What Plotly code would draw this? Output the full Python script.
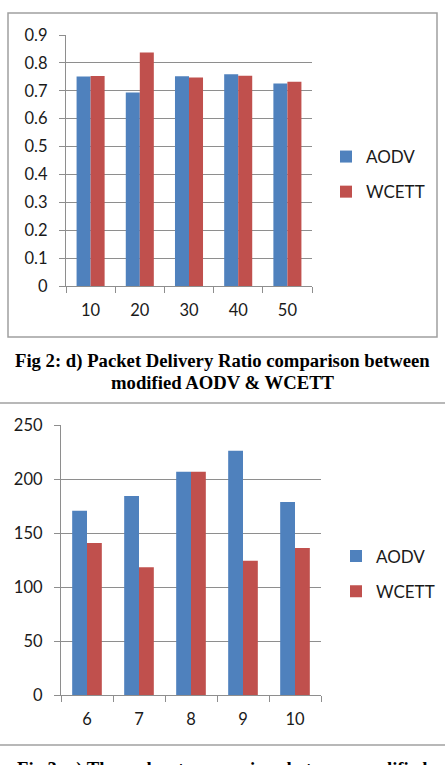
import plotly.graph_objects as go

# ---- data ----
pdr_nodes = ["10", "20", "30", "40", "50"]
pdr_aodv = [0.751, 0.694, 0.752, 0.759, 0.726]
pdr_wcett = [0.753, 0.837, 0.748, 0.754, 0.732]
pdr_ticks = [0, 0.1, 0.2, 0.3, 0.4, 0.5, 0.6, 0.7, 0.8, 0.9]

thr_nodes = ["6", "7", "8", "9", "10"]
thr_aodv = [170.7, 184.3, 206.8, 226.2, 178.7]
thr_wcett = [140.7, 118.2, 206.8, 124.4, 136.1]
thr_ticks = [0, 50, 100, 150, 200, 250]

series_names = ["AODV", "WCETT"]
caption_top = ["Fig 2: d) Packet Delivery Ratio comparison between", "modified AODV & WCETT"]
caption_bottom = "Fig 3: c) Throughput comparison between modified"

# ---- styling ----
W, H = 445, 765
BLUE = "#4F81BD"
RED = "#C0504D"
GRID = "#8E8E8E"
TXT = "#1a1a1a"
FONT = "Lato"

def px(x):
    return x / W

def py(y):
    return 1 - y / H

fig = go.Figure()

fig.add_trace(go.Bar(x=pdr_nodes, y=pdr_aodv, name=series_names[0], marker_color=BLUE,
                     xaxis="x", yaxis="y", legend="legend", legendgroup="a1", marker_line_width=0))
fig.add_trace(go.Bar(x=pdr_nodes, y=pdr_wcett, name=series_names[1], marker_color=RED,
                     xaxis="x", yaxis="y", legend="legend", legendgroup="w1", marker_line_width=0))
fig.add_trace(go.Bar(x=thr_nodes, y=thr_aodv, name=series_names[0], marker_color=BLUE,
                     xaxis="x2", yaxis="y2", legend="legend2", legendgroup="a2", marker_line_width=0))
fig.add_trace(go.Bar(x=thr_nodes, y=thr_wcett, name=series_names[1], marker_color=RED,
                     xaxis="x2", yaxis="y2", legend="legend2", legendgroup="w2", marker_line_width=0))

tickfont = dict(family=FONT, size=16.5, color=TXT)

xcommon = dict(type="category", showgrid=False, showline=True, linecolor=GRID, linewidth=1.3,
               ticks="outside", tickson="boundaries", ticklen=6, tickcolor=GRID, tickwidth=1.3,
               tickfont=tickfont, ticklabelstandoff=9, zeroline=False, fixedrange=True,
               automargin=False)
ycommon = dict(showgrid=True, gridcolor=GRID, gridwidth=1.3, showline=True, linecolor=GRID,
               linewidth=1.3, ticks="outside", ticklen=6, tickcolor=GRID, tickwidth=1.3,
               tickfont=tickfont, ticklabelstandoff=8, zeroline=False, fixedrange=True,
               automargin=False)

fig.update_layout(
    width=W, height=H,
    margin=dict(l=0, r=0, t=0, b=0, pad=0, autoexpand=False),
    paper_bgcolor="white", plot_bgcolor="white",
    barmode="group", bargap=0.43, bargroupgap=0,
    xaxis=dict(domain=[px(66), px(312)], anchor="y", **xcommon),
    yaxis=dict(domain=[py(286), py(35)], anchor="x", range=[0, 0.9], tickvals=pdr_ticks,
               ticktext=[f"{v:g}" for v in pdr_ticks], **ycommon),
    xaxis2=dict(domain=[px(61), px(321)], anchor="y2", **xcommon),
    yaxis2=dict(domain=[py(695), py(425)], anchor="x2", range=[0, 250], tickvals=thr_ticks,
                **ycommon),
    legend=dict(x=px(326), y=py(174.5), xanchor="left", yanchor="middle",
                font=dict(family=FONT, size=17, color=TXT), tracegroupgap=10,
                bgcolor="rgba(0,0,0,0)", itemclick=False, itemdoubleclick=False),
    legend2=dict(x=px(336), y=py(574), xanchor="left", yanchor="middle",
                 font=dict(family=FONT, size=17, color=TXT), tracegroupgap=10,
                 bgcolor="rgba(0,0,0,0)", itemclick=False, itemdoubleclick=False),
    showlegend=True,
)

# frame of the first chart and separator lines
fig.add_shape(type="rect", xref="paper", yref="paper", x0=px(8), x1=px(437), y0=py(337), y1=py(13),
              line=dict(color="#A0A0A0", width=1.5), layer="below")
for yy in (403, 745):
    fig.add_shape(type="line", xref="paper", yref="paper", x0=0, x1=1, y0=py(yy), y1=py(yy),
                  line=dict(color="#A0A0A0", width=1.5))

capfont = dict(family="Liberation Serif", size=18.7, color="black")
fig.add_annotation(text="<b>" + caption_top[0] + "</b>", xref="paper", yref="paper",
                   x=px(222.5), y=py(361), xanchor="center", yanchor="middle", showarrow=False, font=capfont)
fig.add_annotation(text="<b>" + caption_top[1] + "</b>", xref="paper", yref="paper",
                   x=px(222.5), y=py(382), xanchor="center", yanchor="middle", showarrow=False, font=capfont)
fig.add_annotation(text="<b>" + caption_bottom + "</b>", xref="paper", yref="paper",
                   x=px(222.5), y=py(756), xanchor="center", yanchor="top", showarrow=False, font=capfont)

fig.write_html("out.html")
